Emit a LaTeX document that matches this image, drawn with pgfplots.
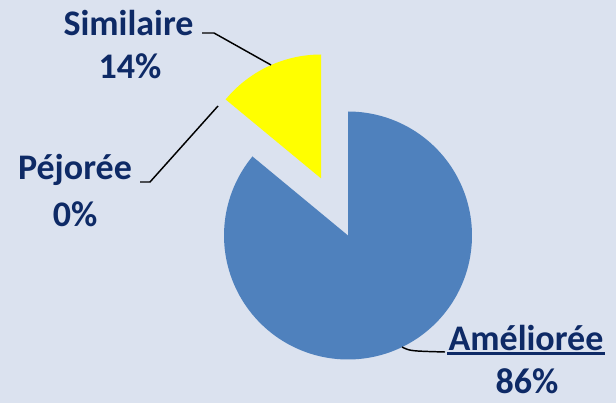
\documentclass[border=0pt]{standalone}
\usepackage{pgfplots}
\usepackage{pgfplotstable}
\pgfplotsset{compat=1.18}
\usepackage{fontspec}
\setmainfont{Carlito}
\definecolor{bg}{RGB}{219,226,239}
\definecolor{pieblue}{RGB}{79,129,189}
\definecolor{pieyellow}{RGB}{255,255,0}
\definecolor{navy}{RGB}{14,42,102}
\pgfplotstableread{
label value explode
Amelioree 86 0
Similaire 14 63
Pejoree 0 0
}\piedata
\begin{document}
\begin{tikzpicture}
\pgfplotstablegetelem{0}{value}\of\piedata \edef\vA{\pgfplotsretval}
\pgfplotstablegetelem{1}{value}\of\piedata \edef\vS{\pgfplotsretval}
\pgfplotstablegetelem{1}{explode}\of\piedata \edef\eS{\pgfplotsretval}
\pgfmathsetmacro\cx{348}
\pgfmathsetmacro\cy{167.5}
\pgfmathsetmacro\r{124}
\pgfmathsetmacro\aStart{90}
\pgfmathsetmacro\aEnd{90-3.6*\vA}
\pgfmathsetmacro\sEnd{\aEnd-3.6*\vS}
\pgfmathsetmacro\sMid{(\aEnd+\sEnd)/2}
\pgfmathsetmacro\sx{\cx+\eS*cos(\sMid)}
\pgfmathsetmacro\sy{\cy+\eS*sin(\sMid)}
\begin{axis}[x=0.75pt, y=0.75pt, xmin=0, xmax=616, ymin=0, ymax=403,
  hide axis, scale only axis, clip=false, anchor=south west, at={(0,0)}]
\fill[bg] (axis cs:0,0) rectangle (axis cs:616,403);
\addplot[fill=pieblue, draw=none, domain=\aEnd:\aStart, samples=150, variable=\t]
  ({\cx+\r*cos(\t)},{\cy+\r*sin(\t)}) -- (axis cs:\cx,\cy) -- cycle;
\addplot[fill=pieyellow, draw=none, domain=\sEnd:\aEnd, samples=40, variable=\t]
  ({\sx+\r*cos(\t)},{\sy+\r*sin(\t)}) -- (axis cs:\sx,\sy) -- cycle;
% leader lines
\draw[black, line width=1.1pt] (axis cs:202,370) -- (axis cs:214,370) -- (axis cs:271,338);
\draw[black, line width=1.1pt] (axis cs:140,221) -- (axis cs:150,221) -- (axis cs:218,297);
\draw[black, line width=1.1pt] (axis cs:402,56) .. controls (axis cs:410,52) .. (axis cs:445,51);
% labels
\begin{scope}[every node/.style={text=navy, font=\fontsize{27}{32}\selectfont\bfseries, inner sep=0pt}]
\node[anchor=base] at (axis cs:128.5,367) {Similaire};
\node[anchor=base] at (axis cs:130,324) {14\%};
\node[anchor=base] at (axis cs:75,223) {Péjorée};
\node[anchor=base] at (axis cs:75,176) {0\%};
\node[anchor=base] at (axis cs:526,53) {Améliorée};
\node[anchor=base] at (axis cs:527,10) {86\%};
\end{scope}
\draw[navy, line width=1.6pt] (axis cs:447,49.5) -- (axis cs:605,49.5);
\end{axis}
\end{tikzpicture}
\end{document}
